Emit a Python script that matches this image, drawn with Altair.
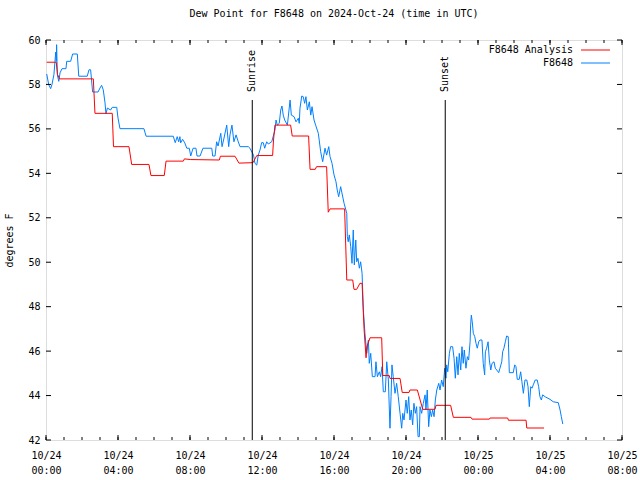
import altair as alt
import pandas as pd

FONT = "DejaVu Sans Mono"
TITLE = "Dew Point for F8648 on 2024-Oct-24 (time in UTC)"

# ---- data: hours since 2024-10-24 00:00 UTC, dew point in degrees F ----
analysis_hours = [0.04, 0.57, 0.64, 0.75, 2.63, 2.72, 3.68, 3.75, 4.61, 4.76, 5.72, 5.83, 6.57, 6.67,
                  7.63, 7.69, 8.04, 9.63, 9.69, 10.50, 10.72, 11.50, 11.71, 12.59, 12.64, 12.72, 13.59,
                  13.68, 14.59, 14.67, 14.96, 15.03, 15.59, 15.68, 15.78, 16.59, 16.71, 17.04, 17.11,
                  17.26, 17.44, 17.56, 17.67, 17.78, 17.83, 18.00, 18.65, 18.71, 19.07, 19.11, 19.67,
                  19.79, 20.17, 20.22, 20.63, 20.93, 21.61, 21.67, 22.48, 22.63, 23.61, 23.67, 24.63,
                  24.67, 25.65, 25.69, 26.67, 26.71, 27.67]
analysis_values = [59.0, 59.0, 58.45, 58.25, 58.25, 56.7, 56.7, 55.2, 55.2, 54.4, 54.4, 53.9, 53.9, 54.55,
                   54.55, 54.65, 54.62, 54.6, 54.77, 54.77, 54.46, 54.48, 54.8, 54.8, 55.5, 56.17, 56.17,
                   55.68, 55.68, 54.18, 54.18, 54.3, 54.3, 52.25, 52.4, 52.4, 49.2, 49.2, 48.78,
                   48.78, 49.05, 49.05, 47.0, 45.7, 46.2, 46.6, 46.6, 44.9, 44.9, 44.77, 44.77,
                   44.14, 44.14, 44.25, 44.25, 43.38, 43.38, 43.56, 43.56, 43.02, 43.02, 42.94, 42.94,
                   42.99, 42.99, 42.89, 42.89, 42.54, 42.54]

obs_hours = [
    0.04, 0.15, 0.26, 0.33, 0.44, 0.54, 0.57, 0.59, 0.63, 0.71, 0.78, 0.89, 1.11, 1.15, 1.37, 1.48,
    1.74, 1.82, 2.29, 2.39, 2.48, 2.59, 2.89, 3.0, 3.09, 3.18, 3.28, 3.33, 3.41, 3.59, 3.68, 3.93,
    4.0, 4.11, 5.44, 5.56,
    7.07, 7.18, 7.29, 7.37, 7.44, 7.48, 7.59, 7.71, 7.82, 7.96, 8.04, 8.17, 8.33, 8.39, 8.56, 8.72,
    9.21, 9.26, 9.39, 9.48, 9.56, 9.71, 9.78, 9.89, 10.04, 10.15, 10.22, 10.33, 10.44, 10.56, 10.67,
    10.78, 11.24, 11.33, 11.53, 11.61, 11.71, 11.79, 11.89,
    11.98, 12.07, 12.15, 12.26, 12.35, 12.54, 12.72, 12.78, 12.85, 12.96, 13.04, 13.11, 13.18, 13.26,
    13.41, 13.56, 13.63, 13.78, 13.89, 14.02, 14.07, 14.11, 14.21, 14.29, 14.37, 14.44, 14.52, 14.63,
    14.71, 14.78, 14.89, 14.98, 15.13, 15.26, 15.37, 15.50, 15.59, 15.71, 15.78, 15.89, 16.0, 16.11,
    16.18, 16.26, 16.37, 16.44, 16.56,
    16.71, 16.74, 16.79, 16.85, 16.93, 17.0, 17.07, 17.13, 17.21, 17.26,
    17.33, 17.41, 17.48, 17.56, 17.63, 17.72, 17.82, 17.91, 17.96, 18.04,
    18.13, 18.28, 18.33, 18.41, 18.52, 18.59, 18.67, 18.74, 18.85, 18.93,
    19.02, 19.11, 19.17, 19.22, 19.29, 19.39, 19.48, 19.57, 19.67, 19.76,
    19.82, 19.89, 20.0, 20.07, 20.15, 20.22, 20.29, 20.37, 20.44, 20.52,
    20.59, 20.67, 20.74, 20.78, 20.87, 20.96, 21.06, 21.11, 21.18, 21.26,
    21.33, 21.41, 21.48, 21.56, 21.63, 21.71, 21.82, 21.89, 21.98, 22.07,
    22.15, 22.22, 22.26, 22.32, 22.41, 22.48, 22.59, 22.67, 22.74, 22.82,
    22.89, 22.96, 23.04, 23.11, 23.18, 23.24, 23.33, 23.41, 23.48, 23.56,
    23.59, 23.63, 23.68, 23.74, 23.82, 23.89, 23.96, 24.04, 24.11, 24.22,
    24.29, 24.37, 24.41, 24.48, 24.56, 24.63, 24.71, 24.78, 24.89, 24.96,
    25.04, 25.15, 25.22, 25.32, 25.37, 25.44, 25.52, 25.59, 25.68, 25.74,
    25.96, 26.04, 26.11, 26.18, 26.29, 26.37, 26.44, 26.52, 26.61, 26.71,
    26.78, 26.85, 26.93, 27.0, 27.07, 27.18, 27.29, 27.37, 27.44, 27.52,
    27.59, 27.74, 28.0, 28.18, 28.46, 28.56, 28.63, 28.71]
obs_values = [
    58.47, 57.99, 57.81, 57.99, 58.44, 59.46, 59.04, 59.79, 58.44, 58.14, 58.52, 58.71, 58.71, 59.04,
    59.04, 59.37, 59.37, 58.37, 58.37, 58.66, 58.66, 57.66, 57.66, 57.84, 57.96, 57.76, 57.17, 56.67,
    56.94, 56.85, 56.97, 56.97, 56.49, 56.01, 56.01, 55.67,
    55.67, 55.38, 55.65, 55.42, 55.65, 55.37, 55.53, 55.37, 55.13, 55.13, 54.78, 55.13, 55.13, 54.78,
    54.78, 55.13, 55.13, 54.78, 54.78, 55.42, 55.23, 55.80, 55.20, 55.59, 56.17, 55.20, 55.73, 56.17,
    55.42, 55.73, 55.45, 55.20, 55.20, 55.13, 54.82, 54.45, 54.37, 54.82, 55.05,
    55.38, 55.38, 55.13, 55.42, 55.32, 55.42, 55.95, 56.40, 56.17, 56.25, 56.85, 57.03, 56.62, 56.40,
    56.17, 57.30, 56.62, 56.55, 56.32, 56.48, 56.25, 56.93, 57.48, 57.45, 57.15, 57.45, 56.85, 57.22,
    56.62, 57.00, 56.40, 56.17, 55.80, 54.97, 54.52, 55.13, 54.82, 55.20, 54.75, 54.45, 53.93, 53.62,
    53.25, 52.95, 53.40, 53.12, 52.65,
    52.20, 51.15, 50.92, 51.23, 50.70, 49.95, 51.45, 49.88, 51.0, 50.02,
    50.18, 49.73, 50.02, 49.50, 47.85, 46.80, 45.90, 46.50, 45.45, 45.90,
    44.85, 44.85, 45.52, 44.85, 45.07, 44.85, 45.30, 44.17, 44.17, 45.52,
    44.70, 42.53, 43.95, 45.38, 44.85, 44.10, 44.55, 43.95, 43.20, 42.53,
    43.20, 42.90, 43.80, 43.20, 43.95, 42.90, 43.35, 42.68, 43.65, 43.20,
    43.50, 42.15, 42.15, 43.50, 43.20, 43.65, 44.03, 43.35, 44.25, 42.60,
    43.35, 43.05, 43.35, 43.05, 43.80, 44.25, 44.55, 44.25, 44.70, 44.40,
    45.23, 44.78, 45.38, 45.07, 45.90, 46.20, 46.20, 45.68, 44.78, 45.75,
    44.93, 45.90, 45.15, 46.20, 45.45, 46.05, 45.23, 45.75, 45.60, 46.42,
    47.18, 47.62, 47.32, 46.80, 46.65, 46.35, 46.13, 46.42, 46.50, 46.50,
    45.45, 44.93, 45.97, 46.13, 46.42, 45.60, 45.15, 45.45, 45.52, 45.23,
    45.15, 45.03, 45.23, 45.52, 45.97, 46.13, 46.42, 46.68, 46.65, 45.03,
    45.03, 45.38, 45.30, 44.73, 44.73, 45.07, 44.62, 44.10, 44.70, 44.70,
    44.40, 43.50, 44.40, 44.33, 44.48, 44.70, 44.70, 44.40, 43.95, 43.80,
    44.03, 43.94, 43.83, 43.72, 43.68, 43.35, 43.05, 42.72]

sun_events = ["Sunrise", "Sunset"]
sun_hours = [11.46, 22.18]

series_names = ["F8648 Analysis", "F8648"]
series_colors = ["#ff0000", "#0080ff"]

minor_hours = list(range(0, 33))
major_hours = list(range(0, 33, 4))
y_ticks = list(range(42, 61, 2))

W, H = 576, 400

analysis_df = pd.DataFrame({"hour": analysis_hours, "value": analysis_values})
obs_df = pd.DataFrame({"hour": obs_hours, "value": obs_values})
sun_df = pd.DataFrame({"event": sun_events, "hour": sun_hours})
minor_df = pd.DataFrame({"hour": minor_hours})
major_df = pd.DataFrame({"hour": major_hours})
ytick_df = pd.DataFrame({"value": y_ticks})

x_scale = alt.Scale(domain=[0, 32], nice=False, zero=False)
y_scale = alt.Scale(domain=[42, 60], nice=False, zero=False)

label_expr = ("[datum.value < 24 ? '10/24' : '10/25', "
              "((datum.value % 24) < 10 ? '0' : '') + (datum.value % 24) + ':00']")

x_axis = alt.Axis(values=major_hours, labelExpr=label_expr, ticks=False, domain=False, grid=False,
                  labelFlush=False, labelOverlap=False, labelPadding=10, labelLineHeight=15,
                  labelFont=FONT, labelFontSize=10, labelColor="black", labelBaseline="top",
                  title=None)
y_axis = alt.Axis(values=y_ticks, ticks=False, domain=False, grid=False, labelPadding=6,
                  labelFont=FONT, labelFontSize=10, labelColor="black", labelBaseline="middle",
                  title="degrees F", titleFont=FONT, titleFontSize=10, titleFontWeight="normal",
                  titleColor="black", titleAngle=270, titleX=-32, titleY=H / 2,
                  titleAlign="center", titleBaseline="bottom")


def X(ax=None):
    if ax is None:
        return alt.X("hour:Q", scale=x_scale)
    return alt.X("hour:Q", scale=x_scale, axis=ax)


def Y(ax=None):
    if ax is None:
        return alt.Y("value:Q", scale=y_scale)
    return alt.Y("value:Q", scale=y_scale, axis=ax)


obs_line = alt.Chart(obs_df).mark_line(color=series_colors[1], strokeWidth=1, interpolate="linear").encode(
    x=X(x_axis), y=Y(y_axis))
ana_line = alt.Chart(analysis_df).mark_line(color=series_colors[0], strokeWidth=1, interpolate="linear").encode(
    x=X(), y=Y())

sun_rule = alt.Chart(sun_df).mark_rule(color="black", strokeWidth=1).encode(
    x=X(), y=alt.value(60), y2=alt.value(H))
sun_text = alt.Chart(sun_df).mark_text(angle=270, align="left", baseline="middle", font=FONT,
                                       fontSize=10, color="black").encode(
    x=X(), y=alt.value(52), text="event:N")

tick_layers = [
    alt.Chart(minor_df).mark_rule(color="black").encode(x=X(), y=alt.value(H), y2=alt.value(H - 3)),
    alt.Chart(major_df).mark_rule(color="black").encode(x=X(), y=alt.value(H), y2=alt.value(H - 5)),
    alt.Chart(minor_df).mark_rule(color="black").encode(x=X(), y=alt.value(0), y2=alt.value(3)),
    alt.Chart(major_df).mark_rule(color="black").encode(x=X(), y=alt.value(0), y2=alt.value(5)),
    alt.Chart(ytick_df).mark_rule(color="black").encode(y=Y(), x=alt.value(0), x2=alt.value(5)),
    alt.Chart(ytick_df).mark_rule(color="black").encode(y=Y(), x=alt.value(W), x2=alt.value(W - 5)),
]

legend_layers = []
for i, (name, col) in enumerate(zip(series_names, series_colors)):
    ldf = pd.DataFrame({"name": [name]})
    yy = 10 + i * 13
    legend_layers.append(alt.Chart(ldf).mark_text(align="right", baseline="middle", font=FONT,
                                                  fontSize=10, color="black").encode(
        x=alt.value(527), y=alt.value(yy), text="name:N"))
    legend_layers.append(alt.Chart(ldf).mark_rule(color=col, strokeWidth=1).encode(
        x=alt.value(535), x2=alt.value(564), y=alt.value(yy)))

chart = alt.layer(obs_line, ana_line, sun_rule, sun_text, *tick_layers, *legend_layers).properties(
    width=W, height=H,
    title=alt.TitleParams(TITLE, font=FONT, fontSize=10, fontWeight="normal", color="black", offset=16),
    autosize=alt.AutoSizeParams(type="none"),
    padding={"left": 46, "top": 40, "right": 18, "bottom": 40},
).configure_view(stroke="black", strokeWidth=1).configure(background="white")

chart.save("out.html", embed_options={"renderer": "svg", "actions": False})
